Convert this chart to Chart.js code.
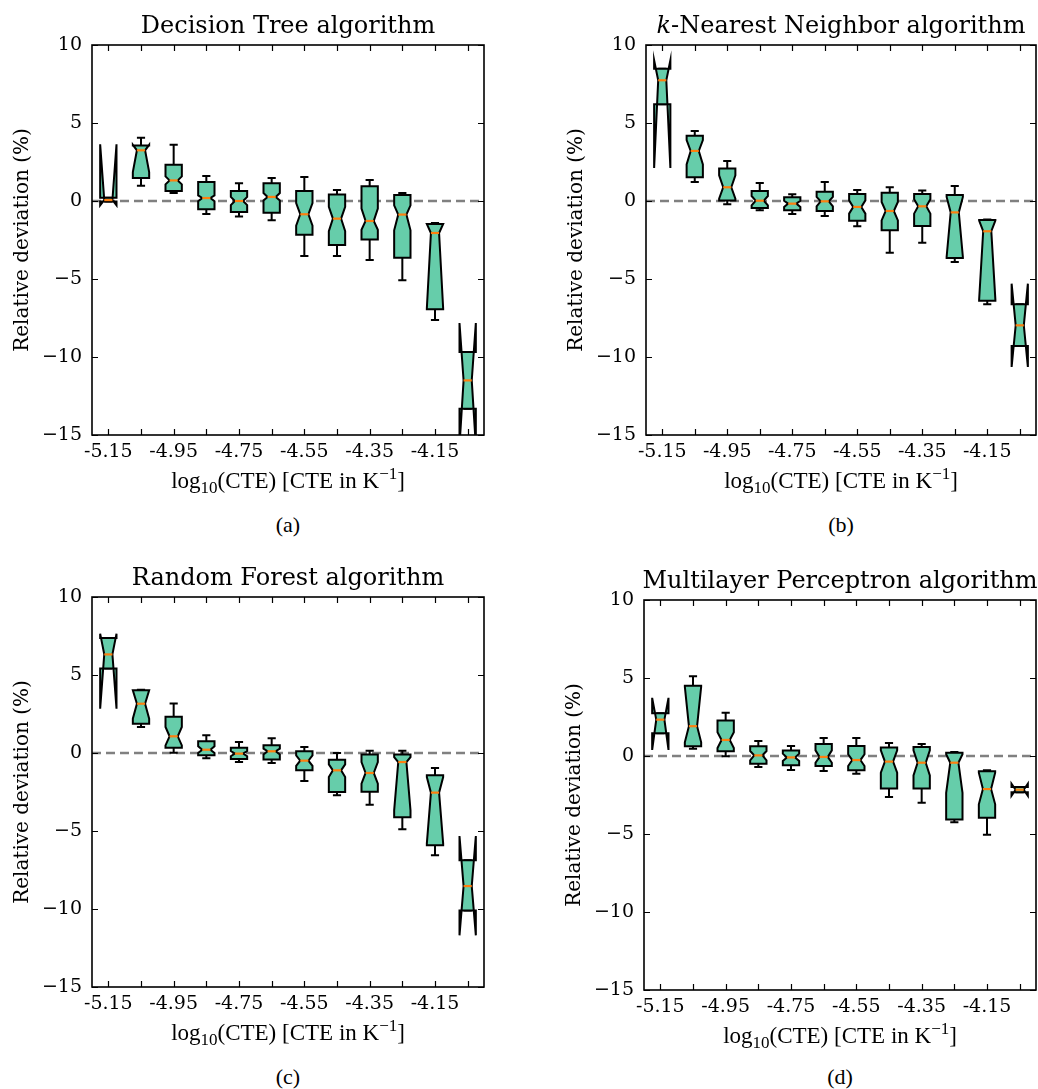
<!DOCTYPE html>
<html>
<head>
<meta charset="utf-8">
<title>Relative deviation by CTE</title>
<script src="https://cdn.jsdelivr.net/npm/chart.js@4.4.1/dist/chart.umd.min.js"></script>
<style>
  body { margin: 0; background: #fff; width: 1038px; height: 1089px; position: relative; overflow: hidden; }
  canvas { position: absolute; }
  .cap { position: absolute; width: 60px; margin-left: -30px; text-align: center;
         font-family: 'Liberation Serif', serif; font-size: 22px; line-height: 24px; color: #000; }
</style>
</head>
<body>
<canvas id="tree" width="520" height="500" style="left:0;top:0"></canvas>
<canvas id="knn" width="484" height="500" style="left:554px;top:0"></canvas>
<canvas id="forest" width="520" height="500" style="left:0;top:552px"></canvas>
<canvas id="mlp" width="486" height="500" style="left:552px;top:555px"></canvas>
<div class="cap" style="left:288px;top:513px">(a)</div>
<div class="cap" style="left:841px;top:513px">(b)</div>
<div class="cap" style="left:288px;top:1065px">(c)</div>
<div class="cap" style="left:840px;top:1065px">(d)</div>
<script>
const cteLabels = ['-5.15', '-5.05', '-4.95', '-4.85', '-4.75', '-4.65', '-4.55', '-4.45', '-4.35', '-4.25', '-4.15', '-4.05'];
const devTicks = [-15, -10, -5, 0, 5, 10];

// Decision Tree
const treeQ1   = [-0.04, 1.47, 0.64, -0.53, -0.71, -0.75, -2.16, -2.82, -2.46, -3.63, -6.94, -13.31];
const treeMed  = [0.06, 3.25, 1.32, 0.19, 0.00, 0.26, -0.85, -1.13, -1.28, -0.87, -2.05, -11.50];
const treeQ3   = [0.21, 3.55, 2.33, 1.22, 0.64, 1.13, 0.64, 0.41, 0.94, 0.38, -1.47, -9.68];
const treeCiLo = [-0.28, 1.86, 1.07, -0.02, -0.26, 0.04, -1.58, -1.94, -1.84, -1.88, -6.90, -15.70];
const treeCiHi = [3.63, 3.60, 1.58, 0.36, 0.26, 0.51, -0.13, -0.38, -0.49, -0.28, -1.47, -7.82];
const treeWLo  = [-0.04, 0.98, 0.51, -0.83, -1.00, -1.24, -3.53, -3.53, -3.78, -5.08, -7.63, -13.31];
const treeWHi  = [0.21, 4.06, 3.61, 1.60, 1.13, 1.47, 1.54, 0.71, 1.35, 0.51, -1.41, -9.68];

// k-Nearest Neighbor
const knnQ1   = [6.20, 1.52, 0.04, -0.45, -0.60, -0.64, -1.26, -1.88, -1.60, -3.65, -6.39, -9.29];
const knnMed  = [7.74, 3.21, 0.88, 0.02, -0.17, -0.02, -0.38, -0.64, -0.34, -0.73, -1.94, -7.97];
const knnQ3   = [8.48, 4.19, 2.09, 0.64, 0.24, 0.60, 0.45, 0.53, 0.45, 0.38, -1.22, -6.62];
const knnCiLo = [2.12, 2.35, 0.15, -0.28, -0.38, -0.34, -0.81, -1.24, -0.81, -3.59, -6.32, -10.64];
const knnCiHi = [9.02, 3.90, 1.65, 0.32, 0.02, 0.26, 0.04, -0.06, 0.11, 0.26, -1.25, -5.30];
const knnWLo  = [6.20, 1.22, -0.21, -0.60, -0.83, -0.96, -1.62, -3.31, -2.67, -3.91, -6.62, -9.29];
const knnWHi  = [8.48, 4.49, 2.56, 1.15, 0.43, 1.22, 0.71, 0.88, 0.68, 0.96, -1.18, -6.62];

// Random Forest
const forestQ1   = [5.41, 1.88, 0.34, -0.15, -0.38, -0.41, -1.11, -2.50, -2.48, -4.12, -5.92, -10.09];
const forestMed  = [6.32, 3.16, 1.07, 0.21, -0.04, 0.11, -0.49, -1.11, -1.28, -0.58, -2.54, -8.53];
const forestQ3   = [7.37, 4.02, 2.33, 0.75, 0.34, 0.49, 0.11, -0.43, -0.09, -0.09, -1.43, -6.88];
const forestCiLo = [2.84, 2.20, 0.49, 0.00, -0.21, -0.09, -0.83, -1.54, -1.97, -3.68, -5.81, -11.69];
const forestCiHi = [7.65, 4.02, 1.67, 0.43, 0.13, 0.28, -0.15, -0.73, -0.58, -0.26, -1.54, -5.32];
const forestWLo  = [5.41, 1.67, 0.02, -0.34, -0.58, -0.64, -1.79, -2.71, -3.31, -4.89, -6.56, -10.09];
const forestWHi  = [7.37, 4.06, 3.18, 1.13, 0.71, 0.94, 0.38, 0.00, 0.15, 0.15, -0.96, -6.88];

// Multilayer Perceptron
const mlpQ1   = [1.46, 0.62, 0.30, -0.49, -0.60, -0.64, -0.92, -2.08, -2.08, -4.07, -3.96, -2.33];
const mlpMed  = [2.33, 1.91, 1.03, 0.04, -0.09, -0.06, -0.26, -0.36, -0.43, -0.43, -2.12, -2.16];
const mlpQ3   = [2.74, 4.50, 2.27, 0.62, 0.36, 0.77, 0.64, 0.54, 0.58, 0.21, -0.98, -1.99];
const mlpCiLo = [0.39, 0.88, 0.51, -0.28, -0.32, -0.43, -0.64, -1.07, -1.24, -2.36, -3.10, -2.55];
const mlpCiHi = [3.73, 4.45, 1.52, 0.32, 0.15, 0.36, 0.11, 0.36, 0.36, 0.11, -1.07, -1.78];
const mlpWLo  = [1.46, 0.47, -0.02, -0.71, -0.90, -0.96, -1.13, -2.63, -3.00, -4.24, -5.05, -2.33];
const mlpWHi  = [2.74, 5.12, 2.78, 0.96, 0.64, 1.16, 1.16, 0.84, 0.77, 0.26, -0.92, -1.99];

Chart.defaults.font.family = 'DejaVu Serif';
Chart.defaults.color = '#000';

// notched boxes drawn the way matplotlib builds them (box, notch, whiskers, caps, median)
const notchedBoxes = {
  id: 'notchedBoxes',
  beforeDatasetsDraw(chart, args, opts) {
    const { ctx, chartArea: a, scales: { x, y } } = chart;
    const s = opts.stats;
    const py = v => y.getPixelForValue(v);
    ctx.save();
    ctx.beginPath();
    ctx.rect(a.left, a.top, a.width, a.height);
    ctx.clip();

    // zero line
    ctx.setLineDash([9, 5]);
    ctx.lineWidth = 2.5;
    ctx.strokeStyle = '#808080';
    ctx.beginPath();
    ctx.moveTo(a.left, py(0));
    ctx.lineTo(a.right, py(0));
    ctx.stroke();
    ctx.setLineDash([]);

    const w = (x.getPixelForValue(1) - x.getPixelForValue(0)) * 0.5;
    s.med.forEach((m, i) => {
      const cx = x.getPixelForValue(i);
      const L = cx - w / 2, R = cx + w / 2, nL = cx - w / 4, nR = cx + w / 4;
      const q1 = py(s.q1[i]), q3 = py(s.q3[i]), md = py(m);
      const lo = py(s.ciLo[i]), hi = py(s.ciHi[i]);

      ctx.strokeStyle = '#000';
      ctx.lineWidth = 2;
      ctx.lineCap = 'butt';
      ctx.beginPath();
      ctx.moveTo(cx, q3); ctx.lineTo(cx, py(s.wHi[i]));
      ctx.moveTo(cx, q1); ctx.lineTo(cx, py(s.wLo[i]));
      ctx.moveTo(nL, py(s.wHi[i])); ctx.lineTo(nR, py(s.wHi[i]));
      ctx.moveTo(nL, py(s.wLo[i])); ctx.lineTo(nR, py(s.wLo[i]));
      ctx.stroke();

      const pts = [[L, q1], [R, q1], [R, lo], [nR, md], [R, hi], [R, q3],
                   [L, q3], [L, hi], [nL, md], [L, lo]];
      ctx.beginPath();
      pts.forEach(([px, pyy], k) => k ? ctx.lineTo(px, pyy) : ctx.moveTo(px, pyy));
      ctx.closePath();
      ctx.fillStyle = '#66cdaa';
      ctx.fill();
      ctx.lineJoin = 'miter';
      ctx.miterLimit = 10;
      ctx.lineWidth = 2;
      ctx.stroke();

      ctx.strokeStyle = '#ff7f0e';
      ctx.lineWidth = 2.2;
      ctx.beginPath();
      ctx.moveTo(nL, md); ctx.lineTo(nR, md);
      ctx.stroke();
    });
    ctx.restore();
  }
};

// closed frame with inward ticks on every side
const frameTicks = {
  id: 'frameTicks',
  afterDraw(chart) {
    const { ctx, chartArea: a, scales: { x, y } } = chart;
    const len = 6;
    ctx.save();
    ctx.strokeStyle = '#000';
    ctx.lineWidth = 1.2;
    ctx.beginPath();
    x.ticks.forEach((t, i) => {
      const px = Math.round(x.getPixelForTick(i)) + 0.5;
      ctx.moveTo(px, a.bottom); ctx.lineTo(px, a.bottom - len);
      ctx.moveTo(px, a.top); ctx.lineTo(px, a.top + len);
    });
    y.ticks.forEach((t, i) => {
      const pyy = Math.round(y.getPixelForTick(i)) + 0.5;
      ctx.moveTo(a.left, pyy); ctx.lineTo(a.left + len, pyy);
      ctx.moveTo(a.right, pyy); ctx.lineTo(a.right - len, pyy);
    });
    ctx.stroke();
    ctx.lineWidth = 1.6;
    ctx.strokeRect(a.left, a.top, a.width, a.height);
    ctx.restore();
  }
};

// panel heading, with optional italic pieces
const panelTitle = {
  id: 'panelTitle',
  afterDraw(chart, args, opts) {
    const { ctx, chartArea: a } = chart;
    const fonts = opts.parts.map(p => (p.italic ? 'italic ' : '') + '24px "DejaVu Serif"');
    ctx.save();
    ctx.fillStyle = '#000';
    ctx.textBaseline = 'alphabetic';
    let total = 0;
    opts.parts.forEach((p, k) => { ctx.font = fonts[k]; total += ctx.measureText(p.text).width; });
    let px = (a.left + a.right) / 2 - total / 2;
    opts.parts.forEach((p, k) => {
      ctx.font = fonts[k];
      ctx.fillText(p.text, px, a.top - 12);
      px += ctx.measureText(p.text).width;
    });
    ctx.restore();
  }
};

// x axis label: log10(CTE) [CTE in K^-1]
const xAxisLabel = {
  id: 'xAxisLabel',
  afterDraw(chart) {
    const { ctx, chartArea: a } = chart;
    const big = '23px "Liberation Serif"', small = '17px "Liberation Serif"';
    const runs = [
      { t: 'log', f: big, dy: 0 },
      { t: '10', f: small, dy: 5 },
      { t: '(CTE) [CTE in K', f: big, dy: 0 },
      { t: '\u22121', f: small, dy: -9 },
      { t: ']', f: big, dy: 0 }
    ];
    ctx.save();
    ctx.fillStyle = '#000';
    ctx.textBaseline = 'alphabetic';
    let total = 0;
    runs.forEach(r => { ctx.font = r.f; total += ctx.measureText(r.t).width; });
    let px = (a.left + a.right) / 2 - total / 2;
    const base = a.bottom + 53;
    runs.forEach(r => {
      ctx.font = r.f;
      ctx.fillText(r.t, px, base + r.dy);
      px += ctx.measureText(r.t).width;
    });
    ctx.restore();
  }
};

function makePanel(id, stats, parts, padRight) {
  new Chart(document.getElementById(id), {
    type: 'line',
    data: {
      labels: cteLabels,
      datasets: [{ data: stats.med, showLine: false, pointRadius: 0 }]
    },
    options: {
      responsive: false,
      animation: false,
      layout: { padding: { top: 45, right: padRight, left: 0, bottom: 0 } },
      plugins: {
        legend: { display: false },
        tooltip: { enabled: false },
        notchedBoxes: { stats },
        panelTitle: { parts }
      },
      scales: {
        x: {
          type: 'category',
          offset: true,
          grid: { display: false, drawTicks: false },
          border: { display: false },
          ticks: {
            autoSkip: false,
            maxRotation: 0,
            padding: 6,
            font: { size: 19 },
            callback(v, i) { return i % 2 ? '' : this.getLabelForValue(v); }
          },
          afterFit(s) { s.height = 65; }
        },
        y: {
          min: -15,
          max: 10,
          grid: { display: false, drawTicks: false },
          border: { display: false },
          afterBuildTicks(s) { s.ticks = devTicks.map(v => ({ value: v })); },
          ticks: {
            padding: 10,
            font: { size: 19 },
            callback: v => String(v).replace('-', '\u2212')
          },
          title: {
            display: true,
            text: 'Relative deviation (%)',
            font: { size: 20 },
            padding: { top: 11, bottom: 0 }
          },
          afterFit(s) { s.width = 92; }
        }
      }
    },
    plugins: [notchedBoxes, frameTicks, panelTitle, xAxisLabel]
  });
}

makePanel('tree', { q1: treeQ1, med: treeMed, q3: treeQ3, ciLo: treeCiLo, ciHi: treeCiHi, wLo: treeWLo, wHi: treeWHi },
  [{ text: 'Decision Tree algorithm' }], 36);
makePanel('knn', { q1: knnQ1, med: knnMed, q3: knnQ3, ciLo: knnCiLo, ciHi: knnCiHi, wLo: knnWLo, wHi: knnWHi },
  [{ text: 'k', italic: true }, { text: '-Nearest Neighbor algorithm' }], 2);
makePanel('forest', { q1: forestQ1, med: forestMed, q3: forestQ3, ciLo: forestCiLo, ciHi: forestCiHi, wLo: forestWLo, wHi: forestWHi },
  [{ text: 'Random Forest algorithm' }], 36);
makePanel('mlp', { q1: mlpQ1, med: mlpMed, q3: mlpQ3, ciLo: mlpCiLo, ciHi: mlpCiHi, wLo: mlpWLo, wHi: mlpWHi },
  [{ text: 'Multilayer Perceptron algorithm' }], 2);
</script>
</body>
</html>
